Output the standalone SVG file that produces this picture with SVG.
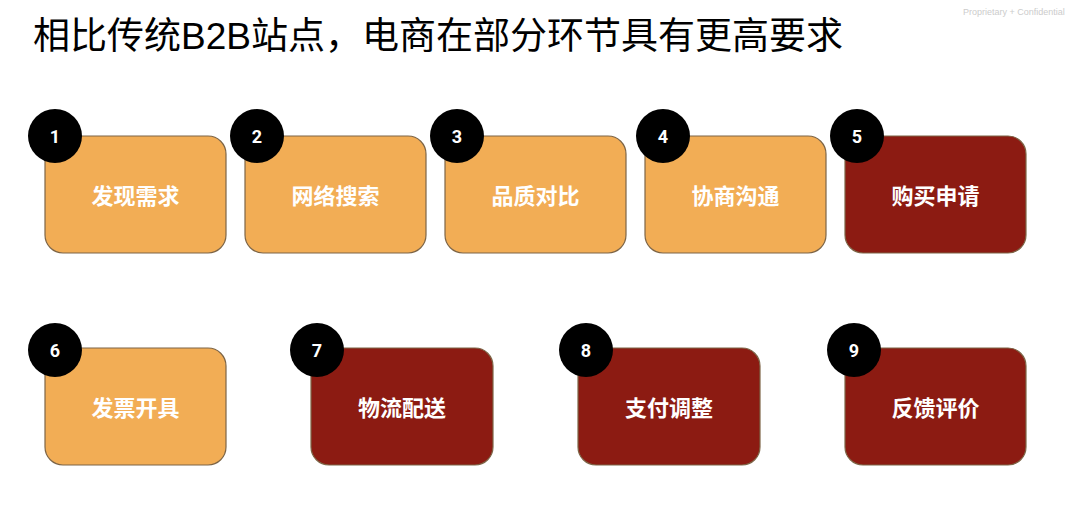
<svg xmlns="http://www.w3.org/2000/svg" width="1080" height="526" viewBox="0 0 1080 526">
<style>
.box{stroke:#7d6547;stroke-width:1.2}
.o{fill:#F2AD55}
.r{fill:#8C1B12}
.c{fill:#000000}
.num{font-family:Roboto,"Liberation Sans",sans-serif;font-weight:bold;font-size:18px;fill:#ffffff;text-anchor:middle}
.lbl{font-family:"Noto Sans CJK SC","Noto Sans",sans-serif;font-weight:bold;font-size:22px;fill:#ffffff;text-anchor:middle}
.title{font-family:"Liberation Sans","Noto Sans CJK SC",sans-serif;font-size:37px;fill:#000000}
.conf{font-family:"Liberation Sans",sans-serif;font-size:9px;fill:#cccccc}
</style>
<rect width="1080" height="526" fill="#ffffff"/>
<text class="conf" x="963" y="15">Proprietary + Confidential</text>
<text class="title" x="33" y="49" textLength="810" lengthAdjust="spacingAndGlyphs">相比传统B2B站点，电商在部分环节具有更高要求</text>
<g id="connectors"></g>
<g id="node1"><rect class="box o" x="45" y="136" width="181" height="117" rx="18"/><circle class="c" cx="55" cy="136" r="27"/><text class="num" x="55" y="143">1</text><text class="lbl" x="135.5" y="204">发现需求</text></g>
<g id="node2"><rect class="box o" x="245" y="136" width="181" height="117" rx="18"/><circle class="c" cx="257" cy="136" r="27"/><text class="num" x="257" y="143">2</text><text class="lbl" x="335.5" y="204">网络搜索</text></g>
<g id="node3"><rect class="box o" x="445" y="136" width="181" height="117" rx="18"/><circle class="c" cx="457" cy="136" r="27"/><text class="num" x="457" y="143">3</text><text class="lbl" x="535.5" y="204">品质对比</text></g>
<g id="node4"><rect class="box o" x="645" y="136" width="181" height="117" rx="18"/><circle class="c" cx="663" cy="136" r="27"/><text class="num" x="663" y="143">4</text><text class="lbl" x="735.5" y="204">协商沟通</text></g>
<g id="node5"><rect class="box r" x="845" y="136" width="181" height="117" rx="18"/><circle class="c" cx="857" cy="136" r="27"/><text class="num" x="857" y="143">5</text><text class="lbl" x="935.5" y="204">购买申请</text></g>
<g id="node6"><rect class="box o" x="45" y="348" width="181" height="117" rx="18"/><circle class="c" cx="55" cy="350" r="27"/><text class="num" x="55" y="357">6</text><text class="lbl" x="135.5" y="416">发票开具</text></g>
<g id="node7"><rect class="box r" x="311" y="348" width="182" height="117" rx="18"/><circle class="c" cx="317" cy="350" r="27"/><text class="num" x="317" y="357">7</text><text class="lbl" x="402" y="416">物流配送</text></g>
<g id="node8"><rect class="box r" x="578" y="348" width="182" height="117" rx="18"/><circle class="c" cx="586" cy="350" r="27"/><text class="num" x="586" y="357">8</text><text class="lbl" x="669" y="416">支付调整</text></g>
<g id="node9"><rect class="box r" x="845" y="348" width="181" height="117" rx="18"/><circle class="c" cx="854" cy="350" r="27"/><text class="num" x="854" y="357">9</text><text class="lbl" x="935.5" y="416">反馈评价</text></g>
</svg>
